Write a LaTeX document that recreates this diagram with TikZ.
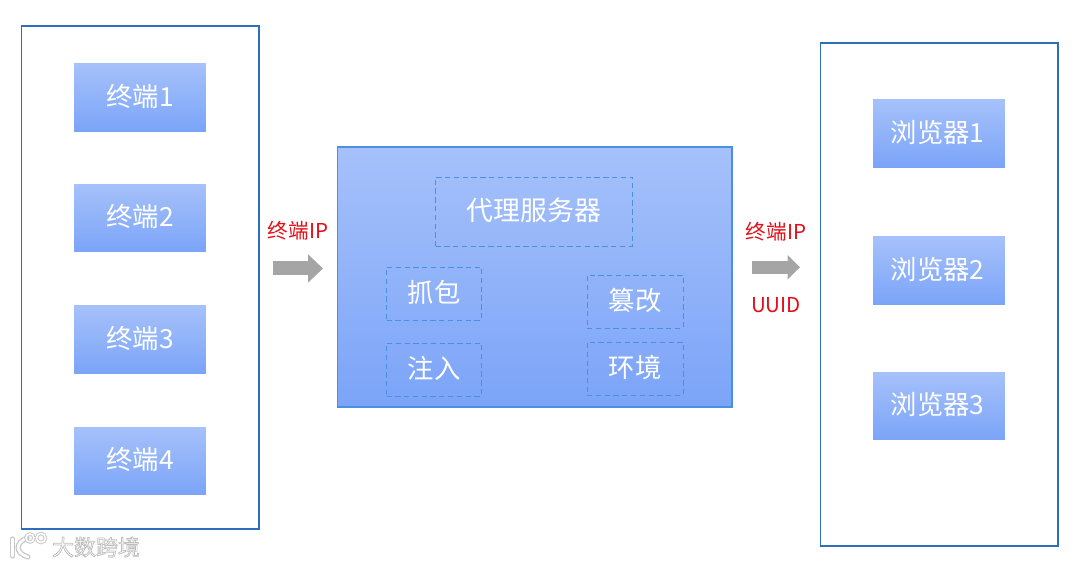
\documentclass[tikz,border=0pt]{standalone}
\usepackage{fontspec}
\setmainfont{Noto Sans CJK SC}[Scale=1]
\usetikzlibrary{arrows.meta,positioning}
\definecolor{HubBlue}{RGB}{47,110,186}
\definecolor{HubEdge}{RGB}{74,144,226}
\definecolor{HubTop}{RGB}{166,193,250}
\definecolor{HubBottom}{RGB}{123,164,248}
\definecolor{HubGray}{RGB}{165,165,165}
\definecolor{HubRed}{RGB}{226,14,24}
\definecolor{HubHalo}{RGB}{200,200,200}
\tikzset{
  hub/panel/.style={draw=HubBlue, line width=0.95pt, fill=white, anchor=north west},
  hub/box/.style={
    top color=HubTop,
    bottom color=HubBottom,
    text=white,
    align=center,
    minimum width=2.64cm,
    minimum height=1.36cm,
    inner sep=0pt,
    text height=13.2pt,
    text depth=3.5pt,
    font=\fontsize{15}{18}\selectfont
  },
  hub/proxy/.style={
    draw=HubEdge,
    line width=1.1pt,
    top color=HubTop,
    bottom color=HubBottom,
    anchor=north west,
    minimum width=7.9cm,
    minimum height=5.2cm,
    inner sep=0pt
  },
  hub/dashbox/.style={
    draw=HubEdge,
    line width=0.5pt,
    densely dashed,
    text=white,
    align=center,
    inner sep=0pt,
    text height=13.2pt,
    text depth=3.5pt,
    font=\fontsize{15}{18}\selectfont
  },
  hub/arrow/.style={-{Triangle[length=0.3cm,width=0.55cm]}, line width=0.28cm, draw=HubGray},
  hub/smallarrow/.style={-{Triangle[length=0.25cm,width=0.48cm]}, line width=0.26cm, draw=HubGray},
  hub/redlabel/.style={font=\fontsize{11.7}{13}\selectfont, text=HubRed, inner sep=0pt},
  hub/mark/.style={font=\fontsize{12.5}{14}\selectfont, text=white, inner sep=0pt}
}
\newcommand{\halotext}[1]{\special{pdf:code 2 Tr 0.74 G 0.4 w}#1\special{pdf:code 0 Tr}}
\begin{document}
\begin{tikzpicture}[x=0.02cm,y=-0.02cm]
  \useasboundingbox (0,0) rectangle (1080,567);
  % left column
  \node[hub/panel,minimum width=4.76cm,minimum height=10.06cm] (terminals) at (20.5,25.5) {};
  \node[hub/box] (term1) at (140,97.5) {终端1};
  \node[hub/box] (term2) at (140,218) {终端2};
  \node[hub/box] (term3) at (140,339.5) {终端3};
  \node[hub/box] (term4) at (140,461) {终端4};
  % centre
  \node[hub/proxy] (proxy) at (336.5,146.5) {};
  \node[hub/dashbox,minimum width=3.94cm,minimum height=1.38cm,font=\fontsize{15.3}{18}\selectfont] (server) at (534,211.5) {代理服务器};
  \node[hub/dashbox,minimum width=1.9cm,minimum height=1.06cm] (capture) at (434,293.5) {抓包};
  \node[hub/dashbox,minimum width=1.9cm,minimum height=1.06cm] (inject) at (434,369.5) {注入};
  \node[hub/dashbox,minimum width=1.92cm,minimum height=1.06cm] (tamper) at (635,301.5) {篡改};
  \node[hub/dashbox,minimum width=1.92cm,minimum height=1.06cm] (envir) at (635,368.5) {环境};
  % right column
  \node[hub/panel,minimum width=4.76cm,minimum height=10.06cm] (browsers) at (819.5,42.5) {};
  \node[hub/box] (browser1) at (939,133.5) {\hspace{-0.06cm}浏览器1};
  \node[hub/box] (browser2) at (939,270.5) {\hspace{-0.06cm}浏览器2};
  \node[hub/box] (browser3) at (939,406) {\hspace{-0.06cm}浏览器3};
  % arrows
  \coordinate (in1) at (273,268.5);
  \coordinate (out1) at (323,268.5);
  \coordinate (in2) at (752,267.3);
  \coordinate (out2) at (800,267.3);
  \draw[hub/arrow] (in1) -- (out1);
  \draw[hub/smallarrow] (in2) -- (out2);
  \node[hub/redlabel] (iplabel1) at (298,231) {终端IP};
  \node[hub/redlabel] (iplabel2) at (776,232) {终端IP};
  \node[hub/redlabel] (uuid) at (776,305) {UUID};
  % watermark
  \node[hub/mark] (brand) at (96,547) {\halotext{大数跨境}};
  \draw[HubHalo,line width=3pt,line cap=round] (12.5,539) -- (12.5,556);
  \draw[HubHalo,line width=3pt,line cap=round] (27,538) .. controls (15,543) and (15,553) .. (28,557);
  \draw[white,line width=1.5pt,line cap=round] (12.5,539) -- (12.5,556);
  \draw[white,line width=1.5pt,line cap=round] (27,538) .. controls (15,543) and (15,553) .. (28,557);
  \foreach \cx/\r in {30/4,41/4.5} {
    \draw[HubHalo,line width=2pt] (\cx,538) circle[radius=\r];
    \draw[white,line width=0.9pt] (\cx,538) circle[radius=\r];
  }
\end{tikzpicture}
\end{document}
